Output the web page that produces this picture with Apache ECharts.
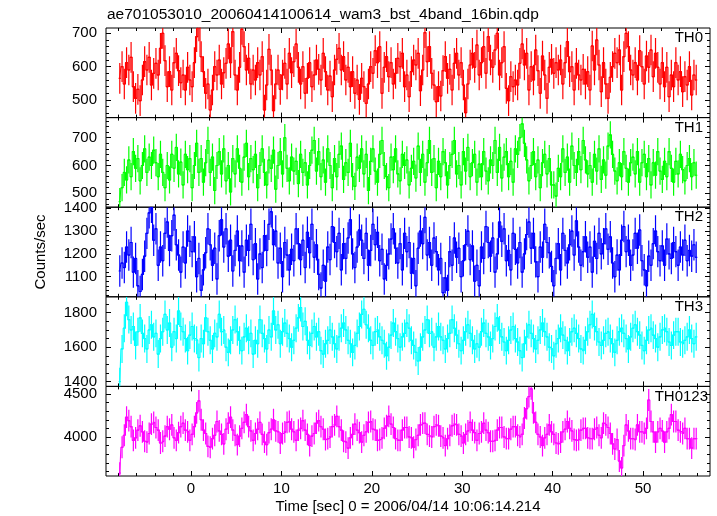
<!DOCTYPE html>
<html><head><meta charset="utf-8">
<script src="https://cdn.jsdelivr.net/npm/echarts@6/dist/echarts.min.js"></script>
<style>html,body{margin:0;padding:0;background:#fff}#c{width:717px;height:516px}</style>
</head><body><div id="c"></div>
<script>
const titleText = 'ae701053010_20060414100614_wam3_bst_4band_16bin.qdp';
const xTitle = 'Time [sec] 0 = 2006/04/14 10:06:14.214';
const yTitle = 'Counts/sec';
const channelNames = ['TH0', 'TH1', 'TH2', 'TH3', 'TH0123'];
const binStart = -7.875, binWidth = 0.25;

const th0 = [565,600,548,612,590,628,540,505,532,498,560,615,590,628,545,580,
610,575,655,700,618,540,585,530,612,640,588,552,575,530,598,560,
540,612,690,722,630,585,520,548,470,530,600,575,620,548,582,610,
668,612,705,575,530,598,712,660,590,625,548,590,560,612,575,630,
470,545,652,590,468,548,590,532,575,610,548,640,582,615,668,598,
548,600,520,565,612,540,575,620,592,560,640,585,530,572,510,590,
622,655,590,630,560,598,540,585,520,560,502,565,540,490,548,600,
580,648,612,660,520,598,630,570,612,548,580,625,600,640,540,575,
510,585,620,605,640,528,590,702,615,660,580,545,495,540,512,588,
630,565,592,530,610,640,575,612,545,462,548,605,640,598,665,575,
612,660,580,690,620,598,650,700,575,612,660,535,498,570,540,560,
545,610,668,605,640,530,600,560,650,588,520,632,575,505,598,622,
580,612,590,620,548,612,675,585,600,530,610,575,560,592,548,585,
530,662,590,680,605,525,612,548,505,568,600,640,612,650,530,630,
700,660,590,575,612,560,648,600,548,632,598,650,570,640,598,548,
612,540,598,510,575,540,612,560,585,525,570,545,600,515,575,560];

const th1 = [470,520,575,548,620,560,650,590,625,545,600,660,575,630,600,655,
610,560,640,575,520,600,548,640,590,665,570,612,530,640,585,625,
520,600,680,575,625,540,610,690,575,630,510,600,650,570,660,545,
600,505,625,570,660,590,540,630,680,560,625,585,640,520,600,660,
575,530,620,590,655,515,600,650,570,700,590,545,630,580,615,535,
640,575,610,530,600,655,690,580,650,560,620,540,660,600,520,625,
560,640,670,550,610,575,680,560,525,630,590,660,570,640,510,615,
660,580,540,640,690,600,560,520,630,585,660,570,545,640,600,620,
530,590,615,555,670,575,640,540,610,690,575,625,520,615,560,650,
610,530,600,640,690,570,600,530,650,580,665,560,610,640,540,605,
560,650,580,545,620,600,690,575,665,555,630,650,560,615,540,660,
640,700,750,680,620,545,600,650,560,620,520,610,640,570,625,530,
530,490,590,560,660,575,630,540,670,600,575,650,585,690,620,570,
600,540,640,580,660,550,620,565,670,710,640,580,545,610,560,650,
590,540,610,630,570,650,540,610,640,560,625,530,610,565,650,580,
550,615,560,650,590,540,615,570,640,585,545,600,625,560,610,565];

const th2 = [1125,1160,1140,1230,1195,1250,1120,1180,1060,1035,1110,1190,1290,1380,1405,1260,
1310,1150,1230,1170,1290,1340,1215,1280,1370,1240,1195,1120,1230,1160,1300,1255,
1210,1275,1100,1180,1040,1130,1205,1310,1240,1150,1225,1090,1280,1350,1230,1310,
1190,1260,1125,1215,1300,1170,1235,1120,1260,1215,1330,1175,1245,1090,1200,1140,
1280,1215,1330,1385,1240,1300,1160,1225,1100,1250,1195,1130,1220,1170,1310,1245,
1175,1260,1140,1295,1205,1330,1185,1240,1110,1050,1150,1080,1230,1175,1320,1250,
1210,1290,1130,1245,1180,1270,1350,1200,1140,1230,1305,1260,1180,1290,1150,1215,
1330,1240,1295,1170,1220,1090,1150,1200,1265,1310,1225,1160,1245,1130,1290,1210,
1250,1115,1180,1060,1225,1300,1245,1360,1195,1250,1150,1270,1210,1130,1180,1030,
1095,1040,1210,1150,1270,1185,1225,1100,1170,1240,1300,1175,1235,1080,1150,1060,
1230,1180,1320,1250,1190,1270,1120,1200,1340,1255,1310,1170,1215,1130,1290,1220,
1160,1250,1120,1200,1285,1340,1225,1290,1165,1100,1230,1185,1330,1250,1205,1145,
1060,1180,1245,1130,1290,1215,1160,1240,1300,1195,1345,1230,1150,1210,1275,1185,
1230,1120,1255,1180,1290,1200,1245,1310,1220,1275,1160,1100,1195,1130,1260,1320,
1210,1260,1150,1195,1290,1225,1305,1170,1130,1060,1190,1150,1245,1300,1210,1170,
1235,1150,1265,1200,1180,1250,1210,1150,1230,1195,1260,1170,1215,1190,1240,1185];

const th3 = [1400,1590,1710,1860,1760,1700,1720,1610,1690,1770,1680,1650,1590,1700,1730,1660,
1680,1560,1650,1690,1790,1700,1740,1600,1690,1650,1810,1720,1690,1650,1580,1670,
1720,1650,1640,1540,1650,1620,1770,1690,1640,1590,1680,1660,1790,1690,1700,1600,
1570,1640,1700,1760,1690,1640,1580,1660,1710,1640,1680,1560,1640,1620,1760,1680,
1650,1590,1700,1660,1810,1700,1730,1620,1690,1740,1680,1650,1600,1640,1710,1770,
1830,1720,1750,1640,1610,1680,1720,1660,1690,1580,1560,1620,1640,1700,1660,1620,
1590,1660,1710,1740,1700,1640,1620,1570,1610,1680,1720,1790,1820,1730,1710,1640,
1610,1690,1700,1660,1640,1620,1550,1600,1670,1740,1690,1650,1600,1660,1680,1740,
1710,1640,1610,1570,1520,1600,1660,1700,1760,1680,1690,1600,1660,1720,1660,1640,
1590,1650,1680,1760,1710,1670,1620,1580,1640,1690,1730,1680,1640,1590,1620,1600,
1690,1740,1680,1660,1610,1650,1720,1770,1700,1660,1630,1580,1640,1700,1720,1650,
1630,1580,1540,1620,1660,1730,1680,1650,1590,1640,1700,1740,1690,1660,1600,1590,
1550,1620,1650,1710,1670,1640,1580,1630,1690,1710,1680,1650,1590,1580,1640,1690,
1730,1790,1720,1690,1630,1610,1640,1680,1690,1650,1620,1570,1640,1690,1710,1680,
1650,1590,1660,1710,1730,1690,1670,1610,1580,1640,1700,1710,1670,1650,1600,1660,
1700,1710,1690,1630,1610,1670,1690,1690,1630,1620,1640,1660,1700,1650,1620,1660];

const th0123 = [3580,3880,4020,4230,4190,4120,3960,3990,4080,4130,4060,3950,3940,4040,4150,4170,
4110,4080,3930,3950,4010,4120,4090,4140,3990,3960,4050,4120,4160,4080,4060,3960,
4030,4120,4280,4420,4200,4080,4040,3890,3880,3980,4020,4180,4070,4030,3920,4090,
4160,4230,4080,4020,3910,4010,4100,4170,4260,4120,4070,3960,4040,4090,4170,4030,
3940,3910,4050,4090,4200,4070,4060,3930,4040,4060,4170,4180,4090,4060,3960,4080,
4100,4190,4080,4030,3900,4010,4040,4160,4190,4120,4090,3970,3980,4000,4120,4140,
4240,4120,4080,3950,3940,3870,3990,4030,4150,4080,4050,3940,4020,4060,4170,4180,
4090,4080,3960,3970,3990,4100,4130,4240,4150,4110,3980,3960,3960,4080,4110,4110,
4000,3990,3880,3970,4020,4140,4160,4160,4030,4010,4000,4120,4140,4130,4010,3990,
3900,3980,4020,4130,4150,4140,4030,4010,3930,4030,4070,4170,4080,4050,3960,4040,
4060,4160,4080,4050,3950,3950,3960,4080,4110,4110,4000,3980,3980,4090,4120,4120,
4020,4000,4030,4220,4330,4470,4560,4280,4170,4030,4000,3900,3990,4030,4140,4060,
4030,3930,3920,3940,4060,4090,4180,4100,4070,3970,3960,3970,4080,4100,4100,3990,
3980,3980,4090,4110,4020,3990,4160,4140,4110,4040,3920,3860,3970,3720,3640,3900,
4140,4070,3980,3980,3970,4140,4060,4060,4040,4100,4430,4180,4060,3940,4060,4100,
4070,3940,4060,4100,4260,4180,4180,4080,4060,4040,4100,3980,3980,3870,3980,3980];

const errHalf = [46, 49, 69, 81, 127];
const timeTickLabels = [0, 10, 20, 30, 40, 50];
const th0TickLabels = [500, 600, 700];
const th1TickLabels = [500, 600, 700];
const th2TickLabels = [1100, 1200, 1300, 1400];
const th3TickLabels = [1400, 1600, 1800];
const th0123TickLabels = [4000, 4500];

const FONT = "'Liberation Sans', Arial, Helvetica, sans-serif";
const FS = 15;
const X_MIN = -9.4, X_MAX = 57.4;
const GRID_LEFT = 106, GRID_RIGHT = 717 - 710, GRID_TOP = 28, PANEL_H = 89.6;

const panels = [
  {data: th0, color: '#ff0000', min: 447.2, max: 715.9, ticks: th0TickLabels, minorStep: 20},
  {data: th1, color: '#00ff00', min: 450, max: 772.3, ticks: th1TickLabels, minorStep: 20},
  {data: th2, color: '#0000ff', min: 1011.8, max: 1404.8, ticks: th2TickLabels, minorStep: 20},
  {data: th3, color: '#00ffff', min: 1372.8, max: 1892, ticks: th3TickLabels, minorStep: 50},
  {data: th0123, color: '#ff00ff', min: 3546, max: 4588, ticks: th0123TickLabels, minorStep: 100}
];
const labelRight = [703, 703, 703, 703, 708];

function stepValues(a, b, step) {
  const out = [];
  for (let v = Math.ceil(a / step) * step; v <= b + 1e-9; v += step) out.push(Math.round(v * 1000) / 1000);
  return out;
}
const xMinor = stepValues(X_MIN, X_MAX, 2);

const grids = [], xAxes = [], yAxes = [], series = [], graphics = [];
panels.forEach((p, k) => {
  const top = GRID_TOP + k * PANEL_H;
  grids.push({left: GRID_LEFT, right: GRID_RIGHT, top: top, height: PANEL_H, show: true,
    borderColor: '#000', borderWidth: 1, backgroundColor: 'transparent'});
  const xBase = {type: 'value', gridIndex: k, min: X_MIN, max: X_MAX, splitLine: {show: false},
    axisLine: {show: false, onZero: false}};
  const xLabel = {show: k === 4, customValues: timeTickLabels, margin: 5, fontSize: FS, color: '#000',
    fontFamily: FONT, formatter: v => String(v)};
  xAxes.push(Object.assign({}, xBase, {position: 'bottom',
    axisTick: {show: true, inside: true, length: 5, customValues: timeTickLabels, lineStyle: {color: '#000'}},
    axisLabel: xLabel}));
  xAxes.push(Object.assign({}, xBase, {position: 'bottom',
    axisTick: {show: true, inside: true, length: 3, customValues: xMinor, lineStyle: {color: '#000'}},
    axisLabel: {show: false}}));
  xAxes.push(Object.assign({}, xBase, {position: 'top',
    axisTick: {show: true, inside: true, length: 5, customValues: timeTickLabels, lineStyle: {color: '#000'}},
    axisLabel: {show: false}}));
  xAxes.push(Object.assign({}, xBase, {position: 'top',
    axisTick: {show: true, inside: true, length: 3, customValues: xMinor, lineStyle: {color: '#000'}},
    axisLabel: {show: false}}));
  const yMinor = stepValues(p.min, p.max, p.minorStep);
  const yBase = {type: 'value', gridIndex: k, min: p.min, max: p.max, splitLine: {show: false},
    axisLine: {show: false, onZero: false}};
  yAxes.push(Object.assign({}, yBase, {position: 'left',
    axisTick: {show: true, inside: true, length: 5, customValues: p.ticks, lineStyle: {color: '#000'}},
    axisLabel: {show: true, customValues: p.ticks, margin: 9, fontSize: FS, color: '#000', fontFamily: FONT,
      formatter: v => String(v)}}));
  yAxes.push(Object.assign({}, yBase, {position: 'left',
    axisTick: {show: true, inside: true, length: 3, customValues: yMinor, lineStyle: {color: '#000'}},
    axisLabel: {show: false}}));
  yAxes.push(Object.assign({}, yBase, {position: 'right',
    axisTick: {show: true, inside: true, length: 5, customValues: p.ticks, lineStyle: {color: '#000'}},
    axisLabel: {show: false}}));
  yAxes.push(Object.assign({}, yBase, {position: 'right',
    axisTick: {show: true, inside: true, length: 3, customValues: yMinor, lineStyle: {color: '#000'}},
    axisLabel: {show: false}}));

  const pts = p.data.map((v, i) => [binStart + i * binWidth, v]);
  const e = errHalf[k];
  series.push({
    type: 'custom', xAxisIndex: k * 4, yAxisIndex: k * 4, clip: true, silent: true,
    data: pts,
    renderItem: (params, api) => {
      const x = api.value(0), v = api.value(1);
      const lo = Math.max(v - e, p.min), hi = Math.min(v + e, p.max);
      const a = api.coord([x, lo]), b = api.coord([x, hi]);
      const c = api.coord([x - binWidth / 2, v]), d = api.coord([x + binWidth / 2, v]);
      return {type: 'group', children: [
        {type: 'line', shape: {x1: a[0], y1: a[1], x2: b[0], y2: b[1]}, style: {stroke: p.color, lineWidth: 1.2}},
        {type: 'line', shape: {x1: c[0], y1: c[1], x2: d[0], y2: d[1]}, style: {stroke: p.color, lineWidth: 1.2}}
      ]};
    }
  });
  series.push({
    type: 'line', xAxisIndex: k * 4, yAxisIndex: k * 4, data: pts, step: 'middle', symbol: 'none',
    lineStyle: {color: p.color, width: 1.1}, silent: true, clip: true
  });
  graphics.push({type: 'text', x: labelRight[k], y: top + 10,
    style: {text: channelNames[k], align: 'right', verticalAlign: 'middle', font: FS + 'px ' + FONT, fill: '#000'}});
});

graphics.push({type: 'text', x: 107, y: 15,
  style: {text: titleText, align: 'left', verticalAlign: 'middle', font: '15.5px ' + FONT, fill: '#000'}});
graphics.push({type: 'text', x: (GRID_LEFT + 710) / 2, y: 507,
  style: {text: xTitle, align: 'center', verticalAlign: 'middle', font: FS + 'px ' + FONT, fill: '#000'}});
graphics.push({type: 'text', x: 41, y: 252, rotation: Math.PI / 2,
  style: {text: yTitle, align: 'center', verticalAlign: 'middle', font: FS + 'px ' + FONT, fill: '#000'}});

const chart = echarts.init(document.getElementById('c'), null, {renderer: 'canvas'});
chart.setOption({
  animation: false,
  backgroundColor: '#fff',
  grid: grids, xAxis: xAxes, yAxis: yAxes, series: series, graphic: graphics
});
</script></body></html>
